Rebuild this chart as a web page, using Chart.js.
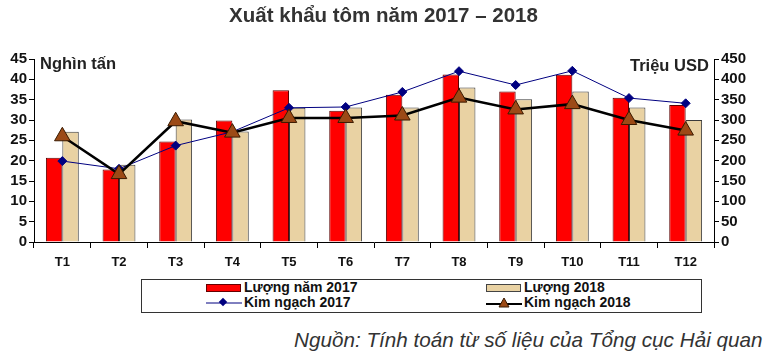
<!DOCTYPE html>
<html>
<head>
<meta charset="utf-8">
<script src="https://cdn.jsdelivr.net/npm/chart.js@4/dist/chart.umd.min.js"></script>
<style>
  body { margin: 0; background: #fff; font-family: "Liberation Sans", Arial, sans-serif; }
  #wrap { position: relative; width: 767px; height: 360px; overflow: hidden; }
  #grafica { position: absolute; left: 0; top: 0; }
  .txt { position: absolute; white-space: nowrap; color: #222; }
  #titulo { left: 0; width: 767px; top: 3px; text-align: center; font-weight: bold; font-size: 20.5px; color: #333; }
  #ejeIzq { left: 40px; top: 54px; font-weight: bold; font-size: 16.5px; }
  #ejeDer { left: 630px; top: 56px; font-weight: bold; font-size: 16.5px; }
  #leyenda { position: absolute; left: 141px; top: 279px; width: 559px; height: 32px; border: 1px solid #333; }
  .item { position: absolute; font-weight: bold; font-size: 14px; color: #111; line-height: 15px; display: flex; align-items: center; }
  .item svg { margin-right: 2px; }
  #fuente { left: 294px; top: 328px; font-style: italic; font-size: 20.7px; color: #333; }
</style>
</head>
<body>
<div id="wrap">
  <canvas id="grafica" width="767" height="275"></canvas>
  <div class="txt" id="titulo">Xuất khẩu tôm năm 2017 – 2018</div>
  <div class="txt" id="ejeIzq">Nghìn tấn</div>
  <div class="txt" id="ejeDer">Triệu USD</div>
  <div id="leyenda">
    <div class="item" style="left:64px;top:0px">
      <svg width="36" height="10"><rect x="0.5" y="1.5" width="34" height="7" fill="#FF0000" stroke="#600"/></svg>Lượng năm 2017
    </div>
    <div class="item" style="left:344px;top:0px">
      <svg width="36" height="10"><rect x="0.5" y="1.5" width="34" height="7" fill="#E9D2A3" stroke="#444"/></svg>Lượng 2018
    </div>
    <div class="item" style="left:64px;top:15px">
      <svg width="36" height="12"><line x1="0" y1="6" x2="36" y2="6" stroke="#000080" stroke-width="1"/><rect x="14" y="2" width="6" height="6" fill="#000080" transform="rotate(45 17 5)"/></svg>Kim ngạch 2017
    </div>
    <div class="item" style="left:344px;top:15px">
      <svg width="36" height="12"><line x1="0" y1="7" x2="36" y2="7" stroke="#000" stroke-width="2"/><polygon points="18,1 23,10 13,10" fill="#9C4A16" stroke="#3a1a00"/></svg>Kim ngạch 2018
    </div>
  </div>
  <div class="txt" id="fuente">Nguồn: Tính toán từ số liệu của Tổng cục Hải quan</div>
</div>
<script>
const meses = ['T1','T2','T3','T4','T5','T6','T7','T8','T9','T10','T11','T12'];
const luong2017 = [20.7, 17.8, 24.7, 29.9, 37.3, 32.3, 36.2, 41.2, 37.0, 41.1, 35.5, 33.7];
const luong2018 = [27.1, 19.0, 30.1, 27.2, 33.0, 33.1, 33.1, 38.0, 35.1, 37.0, 33.1, 30.0];
const kimNgach2017 = [199, 180, 237, 271, 330, 332, 369, 420, 386, 421, 354, 341];
const kimNgach2018 = [260, 167, 297, 269, 305, 305, 311, 355, 326, 339, 300, 274];
const ticksIzq = [0, 45, 5];
const ticksDer = [0, 450, 50];

const fuenteEje = { family: '"Liberation Sans", Arial, sans-serif', weight: 'bold', size: 15 };

const ctx = document.getElementById('grafica').getContext('2d');
const myChart = new Chart(ctx, {
    type: 'bar',
    data: {
        labels: meses,
        datasets: [
            {
                label: 'Kim ngạch 2018',
                type: 'line',
                data: kimNgach2018,
                yAxisID: 'y1',
                borderColor: '#000',
                borderWidth: 2.5,
                pointStyle: 'triangle',
                pointRadius: 9,
                pointBackgroundColor: '#9C4A16',
                pointBorderColor: '#3a1a00',
                pointBorderWidth: 1,
                tension: 0,
                order: 0
            },
            {
                label: 'Kim ngạch 2017',
                type: 'line',
                data: kimNgach2017,
                yAxisID: 'y1',
                borderColor: '#000080',
                borderWidth: 1,
                pointStyle: 'rectRot',
                pointRadius: 4.5,
                pointBackgroundColor: '#000080',
                pointBorderColor: '#000080',
                tension: 0,
                order: 1
            },
            {
                label: 'Lượng năm 2017',
                data: luong2017,
                yAxisID: 'y',
                backgroundColor: '#FF0000',
                borderColor: '#5a0000',
                borderWidth: 1,
                categoryPercentage: 0.58,
                barPercentage: 1,
                order: 2
            },
            {
                label: 'Lượng 2018',
                data: luong2018,
                yAxisID: 'y',
                backgroundColor: '#E9D2A3',
                borderColor: '#3a3a3a',
                borderWidth: 1,
                categoryPercentage: 0.58,
                barPercentage: 1,
                order: 3
            }
        ]
    },
    options: {
        responsive: false,
        animation: false,
        layout: { padding: { top: 59, right: 0, left: 0, bottom: 0 } },
        scales: {
            x: {
                offset: true,
                grid: { offset: true, drawOnChartArea: false, color: '#000', tickLength: 6 },
                border: { color: '#000', width: 1 },
                ticks: { color: '#111', font: { family: fuenteEje.family, weight: 'bold', size: 13 }, padding: 7, autoSkip: false },
                afterFit: scale => { scale.height = 33; }
            },
            y: {
                position: 'left',
                min: ticksIzq[0],
                max: ticksIzq[1],
                grid: { drawOnChartArea: false, color: '#000', tickLength: 5 },
                border: { color: '#000', width: 1 },
                ticks: { stepSize: ticksIzq[2], color: '#111', font: fuenteEje, padding: 2, autoSkip: false },
                afterFit: scale => { scale.width = 34; }
            },
            y1: {
                position: 'right',
                min: ticksDer[0],
                max: ticksDer[1],
                grid: { drawOnChartArea: false, color: '#000', tickLength: 5 },
                border: { color: '#000', width: 1 },
                ticks: { stepSize: ticksDer[2], color: '#111', font: fuenteEje, padding: 2, autoSkip: false },
                afterFit: scale => { scale.width = 53; }
            }
        },
        plugins: {
            legend: { display: false },
            tooltip: { enabled: false }
        }
    }
});
</script>
</body>
</html>
